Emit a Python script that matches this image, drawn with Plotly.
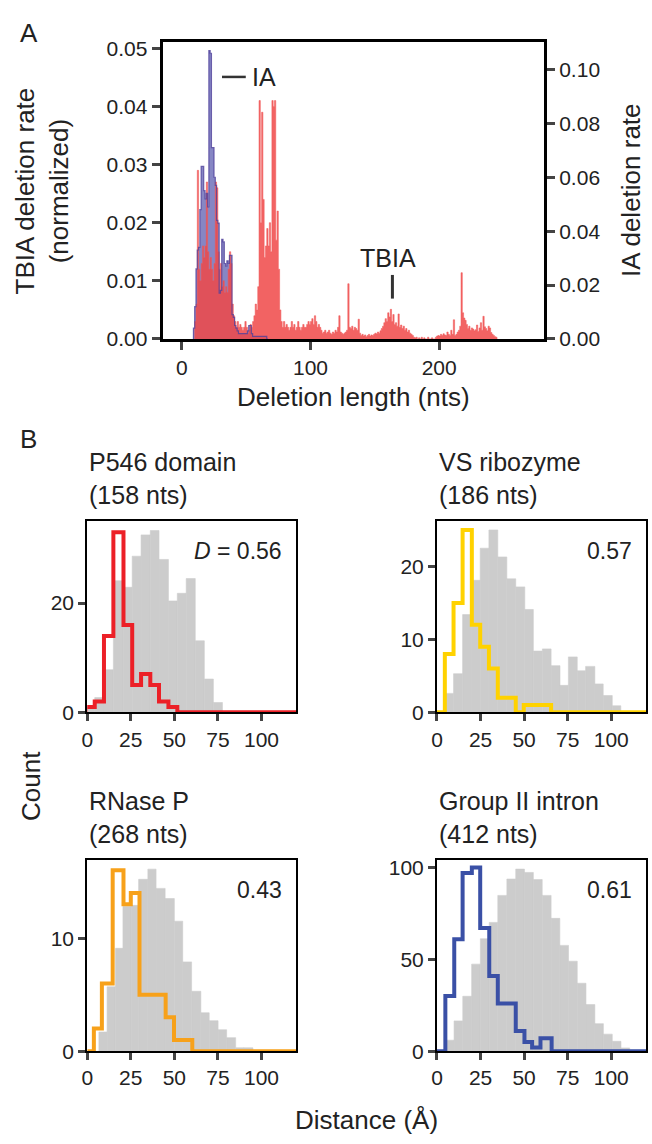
import numpy as np
import plotly.graph_objects as go

W, H = 652, 1144
FONT = "Liberation Sans, Arial, sans-serif"
INK = "#222222"

# ---------------- Panel A: deletion rate per deletion length (nts) ----------------
tbia_start = 10
tbia_rate = [
    0.003, 0.006, 0.029, 0.012, 0.010, 0.013, 0.016, 0.014, 0.016, 0.027,  # 10-19
    0.015, 0.012, 0.014, 0.012, 0.010, 0.013, 0.027, 0.026, 0.015, 0.012,  # 20-29
    0.013, 0.009, 0.010, 0.008, 0.009, 0.008, 0.012, 0.015, 0.013, 0.006,  # 30-39
    0.004, 0.003, 0.002, 0.003, 0.002, 0.0025, 0.002, 0.0015, 0.002, 0.003,  # 40-49
    0.002, 0.001, 0.0015, 0.0025, 0.002, 0.003, 0.004, 0.006, 0.005, 0.009,  # 50-59
    0.041, 0.020, 0.039, 0.024, 0.014, 0.016, 0.019, 0.016, 0.020, 0.015,  # 60-69
    0.041, 0.040, 0.041, 0.017, 0.022, 0.012, 0.005, 0.003, 0.002, 0.003,  # 70-79
    0.002, 0.0025, 0.002, 0.0015, 0.002, 0.003, 0.002, 0.0025, 0.0015, 0.002,  # 80-89
    0.003, 0.002, 0.0015, 0.002, 0.0025, 0.002, 0.002, 0.0025, 0.003, 0.0025,  # 90-99
    0.003, 0.0035, 0.0025, 0.004, 0.003, 0.002, 0.0025, 0.002, 0.0015, 0.001,  # 100-109
    0.0012, 0.0015, 0.001, 0.0012, 0.0015, 0.001, 0.0008, 0.0012, 0.001, 0.0015,  # 110-119
    0.0012, 0.002, 0.004, 0.0012, 0.001, 0.0008, 0.001, 0.0012, 0.0015, 0.0095,  # 120-129
    0.002, 0.0018, 0.0022, 0.0015, 0.002, 0.0018, 0.0015, 0.0034, 0.001, 0.0006,  # 130-139
    0.0008, 0.0005, 0.0007, 0.0004, 0.0006, 0.0008, 0.0005, 0.0007, 0.0006, 0.0008,  # 140-149
    0.001, 0.0009, 0.0012, 0.001, 0.0014, 0.0018, 0.0022, 0.0028, 0.0035, 0.003,  # 150-159
    0.0045, 0.0038, 0.0051, 0.003, 0.0042, 0.0025, 0.0028, 0.0022, 0.0043, 0.002,  # 160-169
    0.0024, 0.0018, 0.0022, 0.0015, 0.0018, 0.0012, 0.0015, 0.001, 0.0008, 0.0006,  # 170-179
    0.0003, 0.0002, 0.0003, 0.0, 0.0002, 0.0, 0.0003, 0.0, 0.0002, 0.0,  # 180-189
    0.0, 0.0003, 0.0, 0.0, 0.0002, 0.0, 0.0, 0.0003, 0.0005, 0.0006,  # 190-199
    0.0005, 0.0008, 0.0006, 0.0009, 0.0007, 0.0006, 0.0012, 0.0008, 0.0006, 0.0015,  # 200-209
    0.0008, 0.0033, 0.0006, 0.0008, 0.0012, 0.0015, 0.0022, 0.0114, 0.0045, 0.0036,  # 210-219
    0.0032, 0.0025, 0.0018, 0.0022, 0.0015, 0.0019, 0.0017, 0.0014, 0.0016, 0.0024,  # 220-229
    0.0013, 0.0019, 0.0028, 0.0015, 0.0039, 0.0021, 0.0018, 0.0014, 0.0022, 0.0019,  # 230-239
    0.0011, 0.0008, 0.0006, 0.0004, 0.0003,  # 240-244
]

ia_start = 9
ia_rate = [
    0.004, 0.012, 0.026, 0.033, 0.034, 0.048, 0.064, 0.064, 0.055, 0.052,  # 9-18
    0.054, 0.049, 0.107, 0.106, 0.071, 0.071, 0.060, 0.057, 0.044, 0.043,  # 19-28
    0.017, 0.018, 0.037, 0.036, 0.028, 0.027, 0.029, 0.028, 0.031, 0.031,  # 29-38
    0.009, 0.008, 0.005, 0.004, 0.003, 0.002, 0.002, 0.002, 0.002, 0.002,  # 39-48
    0.002, 0.002, 0.003, 0.005, 0.005, 0.002, 0.001, 0.001, 0.001, 0.001,  # 49-58
    0.001, 0.001, 0.001, 0.001, 0.001, 0.001, 0.001, 0.0,  # 59-66
]

# ---------------- Panel B: distance histograms (Å) ----------------
p546_edges = [-1.0, 4.3, 9.6, 15.0, 20.8, 25.8, 30.9, 36.2, 41.2, 46.6, 51.7]
p546_counts = [1, 2, 14, 33, 16, 5, 7, 5, 2, 1]
p546_null_edges = [-1.0, 4.3, 9.6, 15.0, 20.8, 25.8, 30.9, 36.2, 41.2, 46.6, 51.7,
                   56.8, 62.0, 67.2, 72.4, 77.6]
p546_null_counts = [1.0, 2.7, 7.8, 24.1, 22.9, 28.6, 32.5, 33.3, 28.0, 20.4,
                    21.8, 24.5, 13.1, 6.1, 1.8]

vs_edges = [0.0, 4.5, 9.5, 14.7, 20.0, 24.8, 29.8, 34.9, 45.2, 49.8, 65.5]
vs_counts = [0, 8, 15, 25, 12, 9, 6, 2, 0, 1]
vs_null_edges = [4.5, 9.5, 14.7, 20.0, 24.8, 29.8, 34.9, 40.1, 45.2, 50.4, 55.3,
                 60.5, 65.5, 70.6, 75.4, 80.5, 85.3, 90.6, 95.4, 100.6, 105.5]
vs_null_counts = [2.6, 5.3, 13.4, 18.1, 22.5, 25.0, 21.3, 18.3, 17.2, 14.1,
                  8.4, 8.7, 6.4, 3.7, 7.6, 5.7, 6.3, 3.9, 2.3, 0.9]

rnase_edges = [0.0, 3.8, 8.4, 14.6, 20.8, 25.0, 30.0, 45.0, 49.8, 60.3]
rnase_counts = [0, 2, 6, 16, 13, 14, 5, 3, 1]
rnase_null_edges = [6.7, 11.4, 16.2, 20.5, 25.3, 29.5, 34.8, 39.5, 44.7, 50.0,
                    54.8, 59.9, 65.2, 70.0, 75.1, 80.0, 85.2, 89.9, 95.1]
rnase_null_counts = [1.7, 5.7, 9.1, 12.8, 12.9, 15.2, 16.1, 14.4, 13.5, 11.5,
                     7.9, 5.3, 3.4, 2.7, 1.9, 1.2, 0.3, 0.3]

g2_edges = [0.0, 4.8, 9.9, 14.7, 20.0, 24.8, 30.0, 34.9, 45.2, 50.2, 54.6, 59.4, 65.8]
g2_counts = [0, 30, 61, 97, 100, 67, 41, 26, 11, 5, 2, 7]
g2_null_edges = [4.8, 9.8, 14.8, 19.9, 24.9, 30.0, 34.9, 40.1, 45.2, 50.2, 55.3,
                 60.4, 65.5, 70.5, 75.5, 80.5, 85.5, 90.6, 95.5, 100.6, 105.6, 110.6]
g2_null_counts = [6.0, 16.5, 29.9, 47.4, 61.2, 70.1, 84.8, 93.7, 99.1, 97.3,
                  93.4, 84.8, 72.3, 57.6, 49.0, 37.0, 25.4, 15.0, 9.3, 5.4, 1.8]

panels = [
    # name, size, D, edges, counts, null edges, null counts, colour, y max, y ticks
    ("P546 domain", "(158 nts)", "<i>D</i> = 0.56", p546_edges, p546_counts,
     p546_null_edges, p546_null_counts, "#ec2027", 35, [0, 20]),
    ("VS ribozyme", "(186 nts)", "0.57", vs_edges, vs_counts,
     vs_null_edges, vs_null_counts, "#ffd200", 26.2, [0, 10, 20]),
    ("RNase P", "(268 nts)", "0.43", rnase_edges, rnase_counts,
     rnase_null_edges, rnase_null_counts, "#f7a11a", 16.9, [0, 10]),
    ("Group II intron", "(412 nts)", "0.61", g2_edges, g2_counts,
     g2_null_edges, g2_null_counts, "#3a50a6", 104, [0, 50, 100]),
]
X_MAX = 120


def px(x):
    return x / W


def py(y):
    return 1 - y / H


def step_xy(edges, counts, xmax):
    xs = [edges[0]] + list(edges[:-1]) + [edges[-1], xmax]
    ys = [0] + list(counts) + [0, 0]
    return xs, ys


fig = go.Figure()

# panel A: IA fill (base axis, right side), TBIA red above it (overlay, left side),
# IA outline on a third overlay so it sits on top of the red
ia_edges = np.arange(ia_start, ia_start + len(ia_rate) + 1)
ia_x, ia_y = step_xy(ia_edges, ia_rate, ia_edges[-1])
tbia_edges = np.arange(tbia_start, tbia_start + len(tbia_rate) + 1)
tb_x, tb_y = step_xy(tbia_edges, tbia_rate, tbia_edges[-1])

fig.add_trace(go.Scatter(x=ia_x, y=ia_y, mode="lines", line_shape="hv",
                         fill="tozeroy", fillcolor="rgba(60,60,160,0.62)",
                         line=dict(width=0), xaxis="x", yaxis="y"))
fig.add_trace(go.Scatter(x=tb_x, y=tb_y, mode="lines", line_shape="hv",
                         fill="tozeroy", fillcolor="rgba(240,72,72,0.85)",
                         line=dict(color="rgba(240,90,90,0.9)", width=0.6),
                         xaxis="x", yaxis="y2"))
fig.add_trace(go.Scatter(x=ia_x, y=ia_y, mode="lines", line_shape="hv",
                         line=dict(color="rgba(80,65,155,0.8)", width=1.2),
                         xaxis="x", yaxis="y7"))

# panel B
cols = [(82, 293), (435, 646)]
rows = [(523, 717), (867, 1061)]
layout_axes = {}
annotations = []
tick_font = dict(family=FONT, size=21, color=INK)

for i, (name, size, dval, edges, counts, nedges, ncounts, colour, ymax, yticks) in enumerate(panels):
    n = i + 3
    c0, c1 = cols[i % 2]
    r0, r1 = rows[i // 2]
    ne = np.array(nedges)
    fig.add_trace(go.Bar(x=(ne[:-1] + ne[1:]) / 2, y=ncounts, width=np.diff(ne),
                         marker=dict(color="#cccccc", line=dict(color="#cccccc", width=0.6)),
                         xaxis=f"x{n}", yaxis=f"y{n}"))
    sx, sy = step_xy(edges, counts, X_MAX + 5)
    fig.add_trace(go.Scatter(x=sx, y=sy, mode="lines", line_shape="hv",
                             line=dict(color=colour, width=4),
                             xaxis=f"x{n}", yaxis=f"y{n}"))
    layout_axes[f"xaxis{n}"] = dict(
        domain=[px(c0), px(c1)], anchor=f"y{n}", range=[0, X_MAX],
        tickvals=[0, 25, 50, 75, 100], ticks="outside", ticklen=7, tickwidth=2.5,
        showline=True, linewidth=2, linecolor="black", mirror=True,
        showgrid=False, zeroline=False, tickfont=tick_font)
    layout_axes[f"yaxis{n}"] = dict(
        domain=[py(r1), py(r0)], anchor=f"x{n}", range=[0, ymax],
        tickvals=yticks, ticks="outside", ticklen=7, tickwidth=2.5,
        showline=True, linewidth=2, linecolor="black", mirror=True,
        showgrid=False, zeroline=False, tickfont=tick_font)
    annotations.append(dict(text=f"{name}<br>{size}", x=px(c0), y=py(r0 - 43),
                            xanchor="left", yanchor="middle", align="left",
                            font=dict(size=25)))
    annotations.append(dict(text=dval, x=px(c1 - 12), y=py(r0 + 30),
                            xanchor="right", yanchor="middle", font=dict(size=23)))

annotations += [
    dict(text="A", x=px(23), y=py(27), font=dict(size=26)),
    dict(text="B", x=px(23), y=py(440), font=dict(size=26)),
    dict(text="TBIA deletion rate<br>(normalized)", textangle=-90,
         x=px(36), y=py(187.5), font=dict(size=26)),
    dict(text="IA deletion rate", textangle=-90, x=px(631), y=py(187.5),
         font=dict(size=26)),
    dict(text="Deletion length (nts)", x=px(350.5), y=py(397), font=dict(size=26)),
    dict(text="IA", x=px(246), y=py(72), xanchor="left", font=dict(size=25)),
    dict(text="TBIA", x=px(386), y=py(256), font=dict(size=25)),
    dict(text="Count", textangle=-90, x=px(25), y=py(792), font=dict(size=26)),
    dict(text="Distance (Å)", x=px(364), y=py(1131), font=dict(size=26)),
]
for a in annotations:
    a.update(xref="paper", yref="paper", showarrow=False)
    a.setdefault("xanchor", "center")
    a.setdefault("yanchor", "middle")
    a["font"].update(family=FONT, color=INK)

shapes = [
    dict(type="line", xref="paper", yref="paper", x0=px(218), x1=px(242),
         y0=py(72), y1=py(72), line=dict(color="#333333", width=2.5)),
    dict(type="line", xref="paper", yref="paper", x0=px(390), x1=px(390),
         y0=py(273), y1=py(297), line=dict(color="#333333", width=3)),
]

axis_a = dict(ticks="outside", ticklen=8, tickwidth=3, showline=True, linewidth=3,
              linecolor="black", showgrid=False, zeroline=False, tickfont=tick_font)
ia_range = [0, 0.11]

fig.update_layout(
    width=W, height=H, margin=dict(l=0, r=0, t=0, b=0),
    paper_bgcolor="white", plot_bgcolor="white", showlegend=False,
    barmode="overlay", font=dict(family=FONT, color=INK),
    xaxis=dict(domain=[px(158), px(543)], range=[-15, 281.5], tickvals=[0, 100, 200],
               anchor="y", mirror=True, **axis_a),
    yaxis=dict(domain=[py(338), py(37)], side="right", range=ia_range,
               tickvals=[0, 0.02, 0.04, 0.06, 0.08, 0.10], tickformat=".2f",
               anchor="x", **axis_a),
    yaxis2=dict(overlaying="y", side="left", range=[0, 0.051],
                tickvals=[0, 0.01, 0.02, 0.03, 0.04, 0.05], tickformat=".2f",
                anchor="x", **axis_a),
    yaxis7=dict(overlaying="y", side="right", range=ia_range, visible=False,
                anchor="x"),
    annotations=annotations, shapes=shapes,
    **layout_axes,
)

fig.write_html("out.html", config={"displayModeBar": False},
               post_script="document.body.style.margin='0px';")
